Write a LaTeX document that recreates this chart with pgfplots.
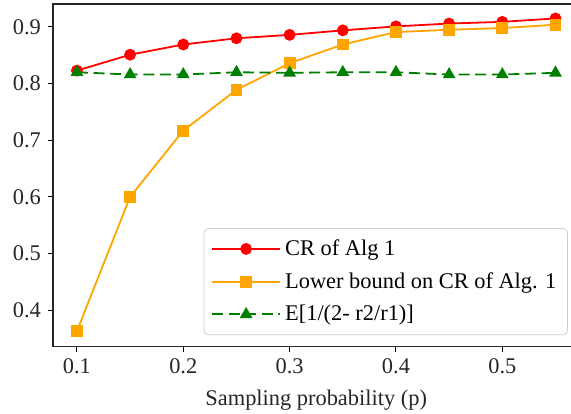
\documentclass[border=0pt]{standalone}
\usepackage{fontspec}
\setmainfont{Liberation Serif}
\usepackage{pgfplots}
\pgfplotsset{compat=1.18}

\definecolor{mplred}{RGB}{255,0,0}
\definecolor{mplorange}{RGB}{255,165,0}
\definecolor{mplgreen}{RGB}{0,128,0}

\begin{document}
\begin{tikzpicture}
	% the reference is cropped on the right: the right spine is not shown
	\clip (-26.5pt,-33.15pt) rectangle (259pt,173.35pt);
	\begin{axis}[
		at={(0,0)}, anchor=south west,
		scale only axis,
		width=263.2pt, height=171.35pt,
		xmin=0.0775, xmax=0.5725,
		ymin=0.3355, ymax=0.9405,
		xtick={0.1,0.2,0.3,0.4,0.5},
		ytick={0.4,0.5,0.6,0.7,0.8,0.9},
		/pgf/number format/assume math mode=true,
		/pgf/number format/fixed,
		/pgf/number format/precision=1,
		tick align=outside,
		tick pos=left,
		major tick length=2.5pt,
		tick style={black, line width=0.5pt},
		axis line style={line width=0.6pt, black!85},
		tick label style={font=\fontsize{11.2}{13}\selectfont, text=black!85},
		xlabel={Sampling probability (p)},
		xlabel style={font=\fontsize{11.2}{13}\selectfont, text=black!85, yshift=-1pt},
		legend cell align=left,
		legend style={
			at={(0.978,0.034)}, anchor=south east,
			font=\fontsize{11.2}{13}\selectfont,
			draw=black!20, rounded corners=2pt,
			row sep=3pt, inner sep=3.5pt,
		},
		legend image code/.code={
			\draw[mark repeat=2, mark phase=2, #1] plot coordinates {(0cm,0cm) (0.6cm,0cm) (1.2cm,0cm)};
		},
	]
		\addplot[mplred, line width=0.9pt, mark=*, mark size=2.5pt]
		coordinates {
			(0.10,0.823) (0.15,0.851) (0.20,0.869) (0.25,0.880) (0.30,0.886)
			(0.35,0.894) (0.40,0.901) (0.45,0.906) (0.50,0.909) (0.55,0.915)
		};
		\addlegendentry{CR of Alg 1}
		\addplot[mplorange, line width=0.9pt, mark=square*, mark size=2.5pt]
		coordinates {
			(0.10,0.363) (0.15,0.600) (0.20,0.717) (0.25,0.789) (0.30,0.836)
			(0.35,0.869) (0.40,0.891) (0.45,0.895) (0.50,0.898) (0.55,0.904)
		};
		\addlegendentry{Lower bound on CR of Alg. 1}
		\addplot[mplgreen, line width=0.9pt, dash pattern=on 5.5pt off 2.8pt,
			mark=triangle*, mark size=2.8pt, mark options={solid}]
		coordinates {
			(0.10,0.820) (0.15,0.816) (0.20,0.816) (0.25,0.820) (0.30,0.819)
			(0.35,0.820) (0.40,0.820) (0.45,0.816) (0.50,0.816) (0.55,0.819)
		};
		\addlegendentry{E[1/(2- r2/r1)]}
	\end{axis}
\end{tikzpicture}
\end{document}
